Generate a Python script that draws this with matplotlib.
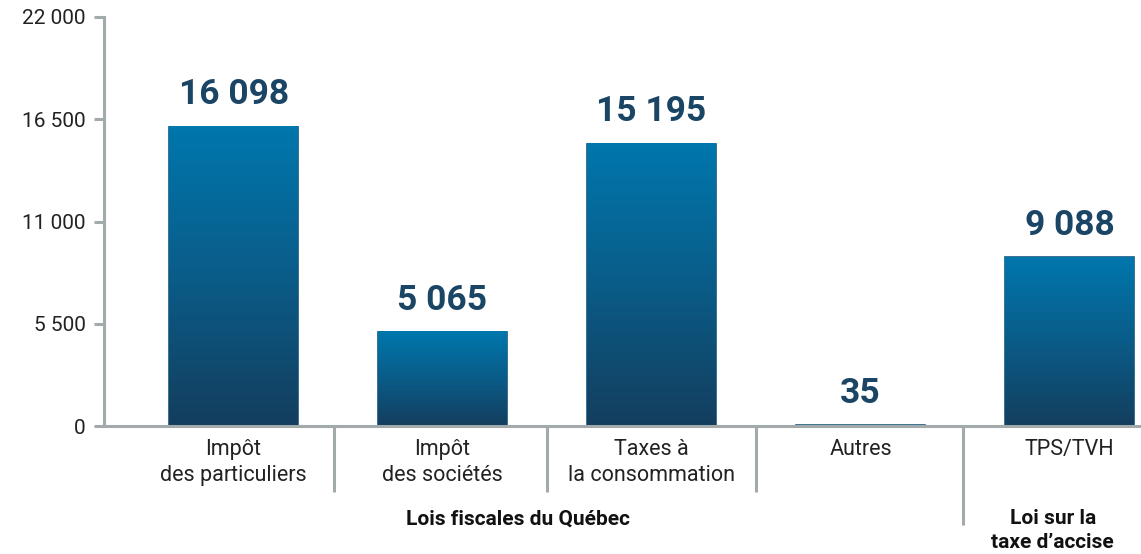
import numpy as np
import matplotlib
matplotlib.use("Agg")
import matplotlib.pyplot as plt
from matplotlib.colors import LinearSegmentedColormap
import matplotlib.transforms as mtransforms

plt.rcParams['font.family'] = ['Roboto', 'DejaVu Sans']

# data
categories = ["Impôt\ndes particuliers", "Impôt\ndes sociétés", "Taxes à\nla consommation",
              "Autres", "TPS/TVH"]
values = [16098, 5065, 15195, 35, 9088]
value_labels = ["16 098", "5 065", "15 195", "35", "9 088"]
yticks = [0, 5500, 11000, 16500, 22000]
ytick_labels = ["0", "5 500", "11 000", "16 500", "22 000"]
groups = ["Lois fiscales du Québec", "Loi sur la\ntaxe d’accise"]

axis_gray = "#a3aaab"
label_col = "#1b4565"
cmap = LinearSegmentedColormap.from_list("bar", ["#143e5e", "#0a5c88", "#0077ad"])

fig = plt.figure(figsize=(11.41, 5.54), dpi=100)
ax = fig.add_axes([104 / 1141, 128 / 554, 1 - 104 / 1141, 409 / 554])

width = 0.617
grad = np.linspace(0, 1, 256).reshape(-1, 1)
for i, v in enumerate(values):
    # thin solid bar underneath so tiny values still show as a line
    ax.bar(i, v, width, color="#16577e", edgecolor="#16577e", lw=1.2, zorder=1)
    ax.imshow(grad, extent=[i - width / 2, i + width / 2, 0, v], origin="lower",
              aspect="auto", cmap=cmap, zorder=2)
    ax.annotate(value_labels[i], (i, v), xytext=(0, 11), textcoords="offset points",
                ha="center", va="bottom", fontsize=25.5, fontweight="bold", color=label_col)

ax.set_xlim(-0.62, 4.342)
ax.set_ylim(0, 22000)
ax.set_yticks(yticks)
ax.set_yticklabels(ytick_labels, fontsize=15, color="#222222")
ax.set_xticks([])
for s in ["top", "right"]:
    ax.spines[s].set_visible(False)
for s in ["left", "bottom"]:
    ax.spines[s].set_color(axis_gray)
    ax.spines[s].set_linewidth(2.2)
    ax.spines[s].set_zorder(3)
ax.tick_params(axis="y", length=7, width=2.2, color=axis_gray, pad=6)

trans = mtransforms.blended_transform_factory(ax.transData, ax.transAxes)
for i, lab in enumerate(categories):
    ax.text(i, -0.033, lab, transform=trans, ha="center", va="top",
            fontsize=15.5, color="#222222", linespacing=1.3)

# separators between categories
seps = [0.48, 1.5, 2.5, 3.49]
for k, x in enumerate(seps):
    y_end = -0.242 if k == 3 else -0.161
    ax.plot([x, x], [0, y_end], transform=trans, color=axis_gray, lw=2.2,
            clip_on=False, solid_capstyle="butt")

ax.text(1.36, -0.227, groups[0], transform=trans, ha="center", va="center",
        fontsize=15, fontweight="bold", color="#111111")
ax.text(3.92, -0.256, groups[1], transform=trans, ha="center", va="center",
        fontsize=15, fontweight="bold", color="#111111", linespacing=1.3)

fig.savefig("out.png", dpi=100)
